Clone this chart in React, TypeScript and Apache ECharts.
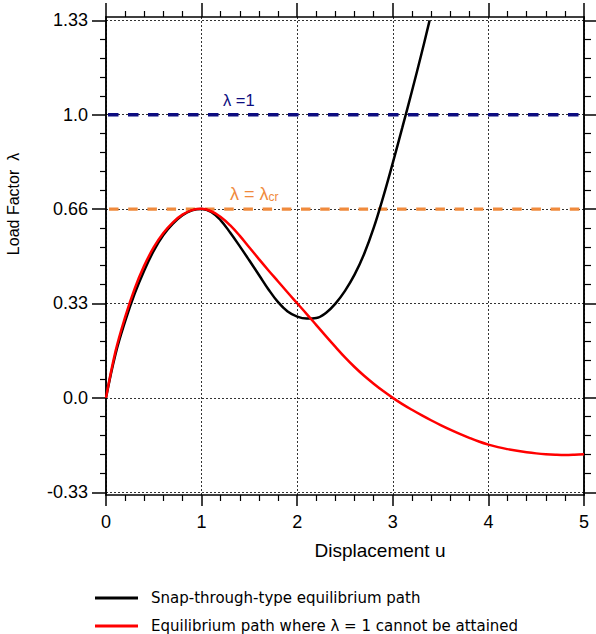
import React, { useEffect, useRef } from "react";
import * as echarts from "echarts";

// Snap-through-type equilibrium path (black), sampled every 0.1 in u
const blackU = [0, 0.1, 0.2, 0.3, 0.4, 0.5, 0.6, 0.7, 0.8, 0.9, 1.0, 1.1, 1.2, 1.3, 1.4, 1.5, 1.6, 1.7, 1.8, 1.9, 2.0, 2.1, 2.2, 2.3, 2.4, 2.5, 2.6, 2.7, 2.8, 2.9, 3.0, 3.1, 3.2, 3.3, 3.385];
const blackL = [0, 0.155, 0.27, 0.368, 0.45, 0.52, 0.575, 0.615, 0.645, 0.662, 0.667, 0.657, 0.627, 0.583, 0.535, 0.485, 0.434, 0.383, 0.338, 0.305, 0.287, 0.28, 0.282, 0.3, 0.333, 0.378, 0.435, 0.508, 0.6, 0.71, 0.83, 0.955, 1.083, 1.215, 1.333];

// Equilibrium path where lambda = 1 cannot be attained (red), sampled every 0.1 in u
const redU = [0, 0.1, 0.2, 0.3, 0.4, 0.5, 0.6, 0.7, 0.8, 0.9, 1.0, 1.1, 1.2, 1.3, 1.4, 1.5, 1.6, 1.7, 1.8, 1.9, 2.0, 2.1, 2.2, 2.3, 2.4, 2.5, 2.6, 2.7, 2.8, 2.9, 3.0, 3.1, 3.2, 3.3, 3.4, 3.5, 3.6, 3.7, 3.8, 3.9, 4.0, 4.1, 4.2, 4.3, 4.4, 4.5, 4.6, 4.7, 4.8, 4.9, 5.0];
const redL = [0, 0.165, 0.285, 0.386, 0.467, 0.532, 0.582, 0.62, 0.647, 0.663, 0.668, 0.659, 0.639, 0.609, 0.572, 0.531, 0.49, 0.45, 0.411, 0.372, 0.334, 0.296, 0.257, 0.218, 0.18, 0.143, 0.109, 0.078, 0.05, 0.024, 0, -0.022, -0.042, -0.061, -0.079, -0.096, -0.112, -0.127, -0.141, -0.154, -0.165, -0.174, -0.181, -0.187, -0.192, -0.196, -0.199, -0.201, -0.202, -0.201, -0.199];

const lambdaOne = 1.0;
const lambdaCr = 2 / 3;

const yMajorTicks = [-1 / 3, 0, 1 / 3, 2 / 3, 1, 4 / 3];
const yTickLabels = ["-0.33", "0.0", "0.33", "0.66", "1.0", "1.33"];
const yMinorTicks = Array.from({ length: 26 }, (_, i) => (i - 5) / 15).filter((_, i) => (i - 5) % 5 !== 0);

const seriesNames = ["Snap-through-type equilibrium path", "Equilibrium path where λ = 1 cannot be attained"];

const AXIS_FONT = "Liberation Sans, Arial, sans-serif";
const LEGEND_FONT = "DejaVu Sans, sans-serif";

export default function App() {
  const ref = useRef<HTMLDivElement>(null);
  useEffect(() => {
    if (!ref.current) return;
    const chart = echarts.init(ref.current, undefined, { renderer: "svg" });
    const yMin = -0.343;
    const yMax = 1.345;
    const axisLine = { show: true, onZero: false, lineStyle: { color: "#000", width: 1.5 } };
    const split = { show: true, lineStyle: { color: "#333", width: 1, type: [2, 2] as any } };
    const yAxisBase = { type: "value", min: yMin, max: yMax, axisLine, splitLine: { show: false } };
    const legendText = { fontFamily: LEGEND_FONT, fontSize: 15, color: "#000", padding: [0, 0, 0, 8], lineHeight: 18 };
    const option: any = {
      animation: false,
      grid: { left: 106, right: 12, top: 17, bottom: 139, containLabel: false },
      xAxis: [
        {
          type: "value", position: "bottom", min: 0, max: 5, interval: 1,
          axisLine,
          axisTick: { show: true, inside: false, length: 11, lineStyle: { color: "#000", width: 1.5 } },
          minorTick: { show: true, splitNumber: 5, length: 6, lineStyle: { color: "#000", width: 1.2 } },
          axisLabel: { show: true, margin: 18, fontSize: 18, color: "#000", fontFamily: AXIS_FONT, formatter: (v: number) => String(v) },
          splitLine: split,
        },
        {
          type: "value", position: "top", min: 0, max: 5, interval: 1,
          axisLine,
          axisTick: { show: true, inside: false, length: 14, lineStyle: { color: "#000", width: 1.5 } },
          minorTick: { show: true, splitNumber: 5, length: 6, lineStyle: { color: "#000", width: 1.2 } },
          axisLabel: { show: false },
          splitLine: { show: false },
        },
      ],
      yAxis: [
        {
          ...yAxisBase, position: "left",
          axisTick: { show: true, length: 14, customValues: yMajorTicks, lineStyle: { color: "#000", width: 1.5 } },
          axisLabel: {
            show: true, customValues: yMajorTicks, margin: 18, fontSize: 18, color: "#000", fontFamily: AXIS_FONT,
            formatter: (v: number) => {
              let best = 0;
              yMajorTicks.forEach((t, i) => { if (Math.abs(t - v) < Math.abs(yMajorTicks[best] - v)) best = i; });
              return yTickLabels[best];
            },
          },
          splitLine: split,
        },
        {
          ...yAxisBase, position: "left",
          axisTick: { show: true, length: 6, customValues: yMinorTicks, lineStyle: { color: "#000", width: 1.2 } },
          axisLabel: { show: false },
        },
        {
          ...yAxisBase, position: "right",
          axisTick: { show: true, length: 12, customValues: yMajorTicks, lineStyle: { color: "#000", width: 1.5 } },
          axisLabel: { show: false },
        },
        {
          ...yAxisBase, position: "right",
          axisTick: { show: true, length: 7, customValues: yMinorTicks, lineStyle: { color: "#000", width: 1.2 } },
          axisLabel: { show: false },
        },
      ],
      legend: [
        {
          orient: "vertical", left: 90, top: 584, itemWidth: 43, itemHeight: 3, icon: "rect",
          textStyle: legendText, data: [seriesNames[0]], selectedMode: false,
        },
        {
          orient: "vertical", left: 90, top: 612, itemWidth: 43, itemHeight: 3, icon: "rect",
          textStyle: legendText, data: [seriesNames[1]], selectedMode: false,
        },
      ],
      graphic: [
        { type: "text", x: 13, y: 204, rotation: Math.PI / 2, style: { text: "Load Factor  λ", fontSize: 16, fontFamily: AXIS_FONT, fill: "#000", align: "center", verticalAlign: "middle" } },
        { type: "text", x: 380, y: 550, style: { text: "Displacement u", fontSize: 19, fontFamily: AXIS_FONT, fill: "#000", align: "center", verticalAlign: "middle" } },
        { type: "text", x: 223, y: 100, style: { text: "λ =1", fontSize: 16.5, fontFamily: AXIS_FONT, fill: "#0d0d80", align: "left", verticalAlign: "middle" } },
        {
          type: "text", x: 230, y: 194,
          style: {
            text: "{a|λ = λ}{b|cr}", fontFamily: AXIS_FONT, fill: "#f08a3c", align: "left", verticalAlign: "middle",
            rich: { a: { fontSize: 18, fontFamily: AXIS_FONT, fill: "#f08a3c", verticalAlign: "bottom" }, b: { fontSize: 12, fontFamily: AXIS_FONT, fill: "#f08a3c", padding: [6, 0, 0, 0], verticalAlign: "bottom" } },
          },
        },
      ],
      series: [
        {
          type: "line", name: "lambda1", data: [[0, lambdaOne], [5, lambdaOne]], showSymbol: false, silent: true,
          lineStyle: { color: "#0d0d80", width: 3.5, type: [10.5, 9.5], dashOffset: -2 }, z: 2,
        },
        {
          type: "line", name: "lambdaCr", data: [[0, lambdaCr], [5, lambdaCr]], showSymbol: false, silent: true,
          lineStyle: { color: "#f08a3c", width: 3.3, type: [9.5, 9.7], dashOffset: -3 }, z: 2,
        },
        {
          type: "line", name: seriesNames[0], data: blackU.map((u, i) => [u, blackL[i]]), showSymbol: false,
          smooth: 0.4,
          lineStyle: { color: "#000", width: 2.5 }, itemStyle: { color: "#000" }, z: 3,
        },
        {
          type: "line", name: seriesNames[1], data: redU.map((u, i) => [u, redL[i]]), showSymbol: false,
          smooth: 0.4,
          lineStyle: { color: "#ff0000", width: 2.5 }, itemStyle: { color: "#ff0000" }, z: 4,
        },
      ],
    };
    chart.setOption(option);
    return () => chart.dispose();
  }, []);
  return <div ref={ref} style={{ position: "absolute", left: 0, top: 0, width: 596, height: 634 }} />;
}
